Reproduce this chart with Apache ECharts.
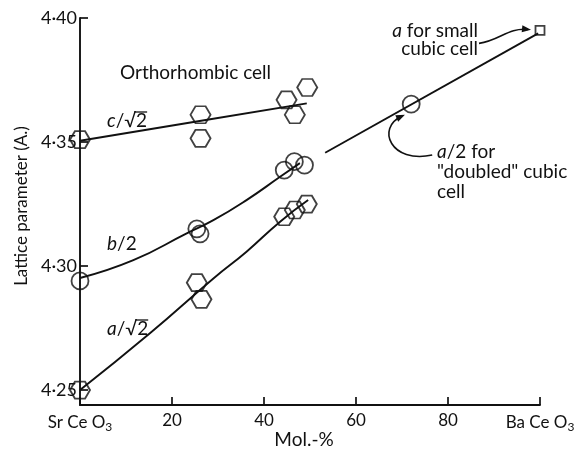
<!DOCTYPE html>
<html>
<head>
<meta charset="utf-8">
<style>
  html, body { margin: 0; padding: 0; background: #fff; }
  #main { width: 580px; height: 452px; }
</style>
<script src="https://cdn.jsdelivr.net/npm/echarts@6/dist/echarts.min.js"></script>
</head>
<body>
<div id="main"></div>
<script>
// 数据
var xTicks = [0, 20, 40, 60, 80, 100];
var yTicks = [4.25, 4.30, 4.35, 4.40];

// c/√2 六边形
var cPoints = [[0, 4.351], [26.2, 4.361], [26.2, 4.3515], [44.9, 4.367], [46.7, 4.361], [49.4, 4.372]];
// b/2 圆
var bPoints = [[0, 4.294], [25.4, 4.315], [26.1, 4.313], [44.4, 4.3387], [46.6, 4.3421], [48.8, 4.3407]];
// a/√2 六边形
var aPoints = [[0, 4.25], [25.4, 4.2933], [26.4, 4.2866], [44.4, 4.3199], [46.7, 4.3226], [49.3, 4.325]];
// 立方晶胞
var cubicCircle = [[72.0, 4.3653]];
var cubicSquare = [[100, 4.395]];

// 拟合曲线
var cCurve = [[0, 4.3505], [26, 4.3585], [49.3, 4.3656]];
var bCurve = [[0, 4.2952], [11.6, 4.3024], [23.2, 4.3132], [29.0, 4.3185], [36.2, 4.3266], [43.5, 4.336], [47.8, 4.3415]];
var aCurve = [[0, 4.25], [15.2, 4.2729], [29.0, 4.295], [36.2, 4.3058], [43.5, 4.3179], [49.6, 4.3266]];
var cubicLine = [[53.3, 4.3457], [99.6, 4.3938]];

var FONT = 'Lato';
var FS = 19;
var INK = '#111';
var hexagon = 'path://M0,5 L3,0 L9,0 L12,5 L9,10 L3,10 Z';

var chart = echarts.init(document.getElementById('main'));

function fitLine(data, smooth) {
    return {
        type: 'line', data: data, smooth: smooth, symbol: 'none', silent: true,
        lineStyle: { color: INK, width: 1.9 }
    };
}
function marks(data, symbol, size) {
    return {
        type: 'scatter', data: data, symbol: symbol, symbolSize: size, silent: true,
        itemStyle: { color: 'rgba(0,0,0,0)', borderColor: INK, borderWidth: 1.8 }
    };
}

var option = {
    animation: false,
    grid: { left: 80, right: 40, top: 18, bottom: 47 },
    xAxis: {
        type: 'value', min: 0, max: 100, interval: 20,
        splitLine: { show: false },
        axisLine: { lineStyle: { color: INK, width: 1.9 } },
        axisTick: { inside: true, length: 8, lineStyle: { color: INK, width: 1.7 } },
        axisLabel: {
            margin: 7, color: INK, fontFamily: FONT, fontSize: 17,
            formatter: function (v) {
                if (v === 0) return '{n|Sr Ce O}{s|3}';
                if (v === 100) return '{n|Ba Ce O}{s|3}';
                return '{n|' + v + '}';
            },
            rich: {
                n: { fontFamily: FONT, fontSize: 17, color: INK },
                s: { fontFamily: FONT, fontSize: 12, color: INK, padding: [9, 0, 0, 0] }
            }
        }
    },
    yAxis: {
        type: 'value', min: 4.244, max: 4.40,
        splitLine: { show: false },
        axisLine: { lineStyle: { color: INK, width: 1.9 } },
        axisTick: { inside: true, length: 8, customValues: yTicks, lineStyle: { color: INK, width: 1.7 } },
        axisLabel: {
            margin: 3, color: INK, fontFamily: FONT, fontSize: 18,
            customValues: yTicks,
            formatter: function (v) { return v.toFixed(2).replace('.', '·'); }
        }
    },
    series: [
        fitLine(cCurve, true),
        fitLine(bCurve, true),
        fitLine(aCurve, true),
        fitLine(cubicLine, false),
        marks(cPoints, hexagon, [20, 17]),
        marks(bPoints, 'circle', 17),
        marks(aPoints, hexagon, [20, 17]),
        marks(cubicCircle, 'circle', 17),
        marks(cubicSquare, 'rect', 9)
    ]
};
chart.setOption(option);

// 注释文字和箭头
var ctx = document.createElement('canvas').getContext('2d');
function measure(s, italic) {
    ctx.font = (italic ? 'italic ' : '') + FS + 'px ' + FONT;
    return ctx.measureText(s).width;
}
function px(p) { return chart.convertToPixel({ gridIndex: 0 }, p); }
function txt(x, y, rich, align) {
    return {
        type: 'text', x: x, y: y, silent: true,
        style: {
            text: rich, fontFamily: FONT, fontSize: FS, fill: INK, align: align || 'left',
            verticalAlign: 'middle',
            rich: {
                i: { fontFamily: FONT, fontSize: FS, fontStyle: 'italic', fill: INK },
                r: { fontFamily: FONT, fontSize: FS, fill: INK }
            }
        }
    };
}
// 根号上的横线
function overline(x, y, letter) {
    var x0 = x + measure(letter, true) + measure('/√');
    var w = measure('2');
    return {
        type: 'line', silent: true,
        shape: { x1: x0 - 2, y1: y - 9, x2: x0 + w, y2: y - 9 },
        style: { stroke: INK, lineWidth: 1.3 }
    };
}
function arrow(anchor, pts) {
    // pts: 相对于锚点的偏移 [start, cp1, cp2, end]
    var o = px(anchor);
    var s = pts.map(function (p) { return [o[0] + p[0], o[1] + p[1]]; });
    var e = s[3], c = s[2];
    var dx = e[0] - c[0], dy = e[1] - c[1], L = Math.sqrt(dx * dx + dy * dy);
    dx /= L; dy /= L;
    var head = [
        [e[0] + dx * 3, e[1] + dy * 3],
        [e[0] - dx * 6 - dy * 3.5, e[1] - dy * 6 + dx * 3.5],
        [e[0] - dx * 6 + dy * 3.5, e[1] - dy * 6 - dx * 3.5]
    ];
    return [
        {
            type: 'bezierCurve', silent: true,
            shape: { x1: s[0][0], y1: s[0][1], cpx1: s[1][0], cpy1: s[1][1], cpx2: s[2][0], cpy2: s[2][1], x2: e[0], y2: e[1] },
            style: { stroke: INK, lineWidth: 1.6, fill: null }
        },
        { type: 'polygon', silent: true, shape: { points: head }, style: { fill: INK } }
    ];
}

var graphics = [
    txt(120, 73, '{r|Orthorhombic cell}'),
    txt(107, 121, '{i|c}{r|/√2}'),
    overline(107, 121, 'c'),
    txt(107, 244, '{i|b}{r|/2}'),
    txt(107, 329, '{i|a}{r|/√2}'),
    overline(107, 329, 'a'),
    txt(478, 31, '{i|a}{r| for small}', 'right'),
    txt(478, 49, '{r|cubic cell}', 'right'),
    txt(437, 152, '{i|a}{r|/2 for}'),
    txt(437, 172, '{r|"doubled" cubic}'),
    txt(437, 192, '{r|cell}'),
    {
        type: 'text', x: 22, y: 206, rotation: Math.PI / 2, silent: true,
        style: { text: 'Lattice parameter (A.)', fontFamily: FONT, fontSize: 17, fill: INK, align: 'center', verticalAlign: 'middle' }
    },
    {
        type: 'text', x: 304, y: 440, silent: true,
        style: { text: 'Mol.-%', fontFamily: FONT, fontSize: 19, fill: INK, align: 'center', verticalAlign: 'middle' }
    }
];
graphics = graphics
    .concat(arrow(cubicSquare[0], [[-61, 13], [-40, 10], [-32, -3], [-12, -1]]))
    .concat(arrow(cubicCircle[0], [[21, 51], [-20, 60], [-36, 24], [-9, 12]]));

chart.setOption({ graphic: graphics });
</script>
</body>
</html>
